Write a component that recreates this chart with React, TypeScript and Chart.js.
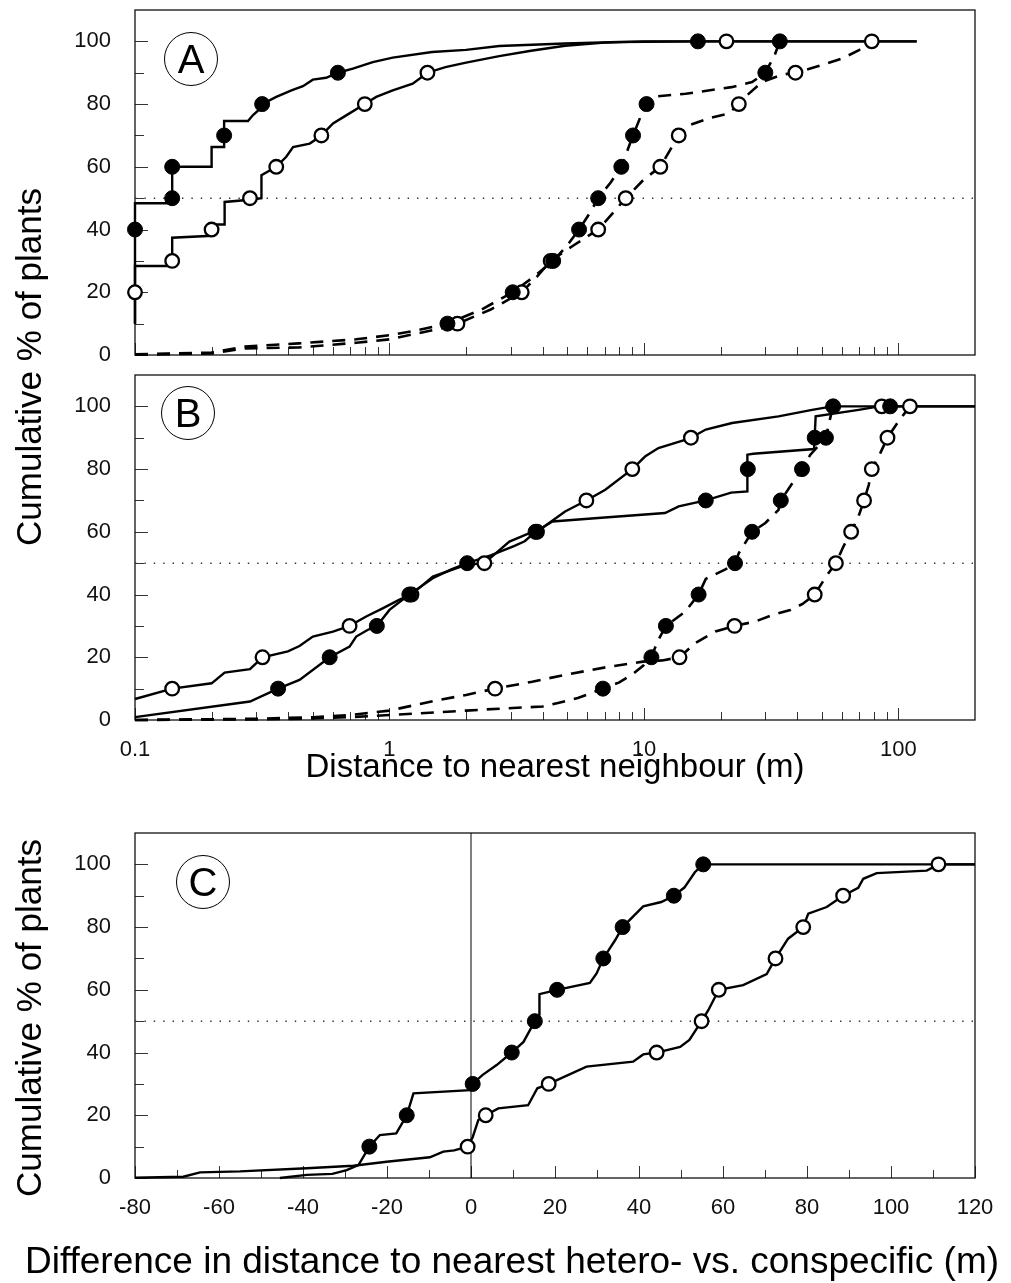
import React, { useEffect, useRef } from "react";
import { Chart, registerables } from "chart.js";
Chart.register(...registerables);

const FONT = "'Liberation Sans', Arial, Helvetica, sans-serif";

const DECILES = [10, 20, 30, 40, 50, 60, 70, 80, 90, 100];
const Y_MAJOR = [0, 20, 40, 60, 80, 100];
const Y_MINOR = [10, 30, 50, 70, 90];
const LOG_MAJOR = [0.1, 1, 10, 100];
const LOG_MINOR = [0.2, 0.3, 0.4, 0.5, 0.6, 0.7, 0.8, 0.9, 2, 3, 4, 5, 6, 7, 8, 9, 20, 30, 40, 50, 60, 70, 80, 90];
const C_MAJOR = [-80, -60, -40, -20, 0, 20, 40, 60, 80, 100, 120];
const C_MINOR = [-70, -50, -30, -10, 10, 30, 50, 70, 90, 110];

// ---------- Panel A ----------
const A_FS_X = [0.1, 0.1, 0.14, 0.14, 0.2, 0.2, 0.224, 0.224, 0.278, 0.291, 0.305, 0.316, 0.359, 0.412, 0.457, 0.5, 0.564, 0.627, 0.718, 0.86, 1.03, 1.47, 2.0, 2.7, 4.9, 8, 16.3, 118];
const A_FS_Y = [10, 48.4, 48.4, 60, 60, 66.3, 66.3, 74.6, 74.6, 76.5, 78, 80, 82.3, 84.4, 85.7, 87.8, 88.4, 90, 91.3, 93.4, 94.8, 96.6, 97.3, 98.5, 99.3, 99.8, 100, 100];
const A_FS_MX = [0.1, 0.14, 0.14, 0.224, 0.316, 0.627, 16.3];
const A_FS_MY = [40, 50, 60, 70, 80, 90, 100];

const A_OS_X = [0.1, 0.1, 0.14, 0.14, 0.2, 0.2, 0.225, 0.225, 0.283, 0.314, 0.314, 0.359, 0.393, 0.418, 0.486, 0.531, 0.54, 0.6, 0.676, 0.8, 0.887, 1.03, 1.234, 1.41, 1.66, 2.0, 2.7, 3.6, 4.9, 7, 10, 21.1, 118];
const A_OS_Y = [10, 28.4, 28.4, 37.4, 38, 41.6, 41.6, 48.8, 49.5, 50, 57.3, 60, 63.2, 66.3, 67.4, 69.5, 70, 73.8, 76.4, 80, 82.3, 84.4, 86.5, 90, 91.8, 93.2, 95.3, 97, 98.6, 99.6, 100, 100, 100];
const A_OS_MX = [0.1, 0.14, 0.2, 0.283, 0.359, 0.54, 0.8, 1.41, 21.1];
const A_OS_MY = [20, 30, 40, 50, 60, 70, 80, 90, 100];

const A_FD_X = [0.1, 0.2, 0.27, 0.44, 0.74, 1.0, 1.27, 1.69, 2.3, 3.05, 3.7, 4.4, 5.0, 5.56, 6.1, 6.61, 7.4, 8.15, 9.06, 9.7, 10.24, 10.7, 14.6, 22.1, 26.6, 30.0, 32.6, 34.2];
const A_FD_Y = [0.2, 0.8, 2.7, 3.7, 5.0, 6.3, 7.8, 10, 14.5, 20, 25, 30, 35, 40, 45, 50, 55, 60, 70, 76, 80, 82.3, 83.3, 85.4, 87, 90, 95.5, 100];
const A_FD_MX = [1.69, 3.05, 4.4, 5.56, 6.61, 8.15, 9.06, 10.24, 30.0, 34.2];

const A_OD_X = [0.1, 0.2, 0.27, 0.44, 0.74, 1.0, 1.27, 1.6, 1.85, 2.5, 3.31, 3.8, 4.3, 5.3, 6.61, 7.5, 8.48, 10, 11.6, 12.6, 13.7, 15, 18, 21.5, 23.6, 25, 29.1, 34.9, 39.4, 47.1, 60, 69.7, 78.6];
const A_OD_Y = [0.1, 0.5, 2.1, 2.4, 3.9, 5.0, 6.8, 8.5, 10, 14.5, 20, 25, 30, 35, 40, 45, 50, 56, 60, 65, 70, 73.2, 75.5, 77, 80, 82.3, 87, 89.4, 90, 91.8, 94.5, 97.1, 100];
const A_OD_MX = [1.85, 3.31, 4.3, 6.61, 8.48, 11.6, 13.7, 23.6, 39.4, 78.6];

// ---------- Panel B ----------
const B_OS_X = [0.1, 0.14, 0.2, 0.225, 0.283, 0.317, 0.399, 0.443, 0.5, 0.6, 0.697, 0.81, 0.94, 1.09, 1.22, 1.48, 2.0, 2.36, 2.96, 3.55, 3.8, 4.24, 4.9, 5.94, 7.05, 9.0, 10.1, 11.4, 14.5, 15.3, 17.5, 22.2, 33.8, 45.8, 55, 86, 200];
const B_OS_Y = [6.7, 10, 11.7, 15.1, 16.2, 20, 21.9, 23.6, 26.6, 28.2, 30, 33, 35.6, 38.3, 40, 45.7, 49.5, 50, 56.9, 59.6, 60, 62.8, 66.5, 70, 73.4, 80, 84, 86.7, 89.3, 90, 92.6, 94.7, 96.8, 98.9, 100, 100, 100];
const B_OS_MX = [0.14, 0.317, 0.697, 1.22, 2.36, 3.8, 5.94, 9.0, 15.3, 86];

const B_FS_X = [0.1, 0.283, 0.365, 0.443, 0.582, 0.697, 0.74, 0.82, 0.892, 1.0, 1.197, 1.48, 1.75, 2.02, 2.5, 3.1, 3.4, 3.75, 4.37, 6.6, 12.1, 13.7, 17.5, 22, 25.5, 25.5, 26.9, 46.6, 47.3, 69.8, 84, 92.8, 200];
const B_FS_Y = [0.9, 5.9, 10, 12.8, 20, 23.4, 26.6, 28.7, 30, 35.1, 40, 45.2, 48, 50, 52.5, 55.5, 57, 60, 63.3, 64.4, 66, 68.1, 70, 72.5, 72.9, 84.6, 84.9, 86.4, 96.8, 98.9, 100, 100, 100];
const B_FS_MX = [0.365, 0.582, 0.892, 1.197, 2.02, 3.75, 17.5, 25.6, 46.9, 92.8];

const B_FD_X = [0.1, 0.3, 0.5, 0.7, 1.0, 2.0, 2.7, 4.0, 4.64, 5.5, 6.9, 8.0, 9.0, 10.0, 10.7, 11.3, 12.2, 14.5, 16.4, 17.5, 20.9, 22.8, 23.6, 26.6, 30.0, 33.8, 34.5, 37.6, 41.8, 45.1, 51.9, 53.5, 55.4];
const B_FD_Y = [0, 0.2, 0.5, 0.9, 1.6, 3.0, 3.6, 4.3, 5.5, 7, 10, 12, 14.5, 17.5, 20, 25, 30, 34.5, 40, 45, 48, 50, 53.2, 60, 62.8, 67, 70, 74.5, 80, 84.6, 90, 95, 100];
const B_FD_MX = [6.9, 10.7, 12.2, 16.4, 22.8, 26.6, 34.5, 41.8, 51.9, 55.4];

const B_OD_X = [0.1, 0.3, 0.5, 0.7, 1.0, 1.48, 2.0, 2.6, 3.64, 4.9, 7.3, 9.9, 11.8, 13.8, 15.9, 19.1, 22.7, 27.4, 32, 37.6, 42, 46.9, 51.9, 56.8, 60.8, 65.2, 69.7, 73.3, 76.5, 78.6, 84.8, 90.6, 100, 111];
const B_OD_Y = [0, 0.4, 0.9, 1.6, 3.0, 6.0, 8.0, 10, 12.2, 14.4, 17.0, 18.6, 19.0, 20, 24.5, 28.2, 30, 31.4, 33.5, 35.1, 37, 40, 45.7, 50, 55.3, 60, 64.9, 70, 75, 80, 85, 90, 95.2, 100];
const B_OD_MX = [2.6, 13.8, 22.7, 46.9, 56.8, 65.2, 73.3, 78.6, 90.6, 111];

// ---------- Panel C ----------
const C_FS_X = [-45.5, -39.1, -33, -29.6, -26.8, -24.2, -21.7, -17.8, -15.3, -13.7, -0.24, 0.4, 2.7, 6.1, 9.7, 12.5, 15.2, 16.3, 16.3, 20.5, 28.3, 29.9, 31.5, 34.3, 36.1, 41.0, 45.3, 48.3, 50.8, 53.3, 55.3, 120];
const C_FS_Y = [0, 1, 1.3, 2.5, 4.1, 10, 13.7, 14.2, 20, 27, 28, 30, 32.8, 36, 40, 43.4, 50, 52, 58.6, 60, 62.2, 65.2, 70, 75.8, 80, 86.6, 88, 90, 92.6, 97.5, 100, 100];
const C_FS_MX = [-24.2, -15.3, 0.4, 9.7, 15.2, 20.5, 31.5, 36.1, 48.3, 55.3];

const C_OS_X = [-80, -68.5, -64.5, -55, -39.1, -28, -20.1, -9.8, -6.6, -4, -0.8, 0.4, 1.75, 3.5, 6.5, 13.6, 15.8, 18.5, 27.5, 38.6, 41, 44.2, 49.8, 52, 54.9, 56.5, 59.0, 64.8, 70.4, 72.5, 75.5, 79.1, 80.3, 84.7, 88.6, 92.2, 93.4, 96.6, 108.5, 111.3, 120];
const C_OS_Y = [0.1, 0.4, 1.8, 2.1, 3.1, 3.9, 5.2, 6.6, 8.4, 8.8, 10, 13, 18.5, 20, 22.2, 23.2, 28.6, 30, 35.5, 37.1, 39.4, 40, 41.8, 44, 50, 53.5, 60, 61.5, 65, 70, 76.3, 80, 84.3, 86.4, 90, 92.5, 95.4, 97.2, 98, 100, 100];
const C_OS_MX = [-0.8, 3.5, 18.5, 44.2, 54.9, 59.0, 72.5, 79.1, 88.6, 111.3];

const ZERO_X = [0, 0];
const ZERO_Y = [0, 110];

// ---------- helpers ----------
const pts = (xs: number[], ys: number[]) => xs.map((x, i) => ({ x, y: ys[i] }));

function curve(xs: number[], ys: number[], dashed: boolean) {
  return {
    data: pts(xs, ys),
    showLine: true,
    borderColor: "#000",
    borderWidth: dashed ? 2.6 : 2.4,
    borderDash: dashed ? [13, 9] : [],
    pointRadius: 0,
    pointHoverRadius: 0,
    tension: 0,
    order: 2,
    clip: 4,
  };
}

function marks(xs: number[], ys: number[], filled: boolean) {
  return {
    data: pts(xs, ys),
    showLine: false,
    pointRadius: filled ? 7.5 : 6.8,
    pointHoverRadius: filled ? 7.5 : 6.8,
    pointBorderWidth: filled ? 1 : 2.3,
    pointBackgroundColor: filled ? "#000" : "#fff",
    pointBorderColor: "#000",
    order: filled ? 0 : 1,
    clip: false,
  };
}

function refLine(xs: number[], ys: number[], dotted: boolean) {
  return {
    data: pts(xs, ys),
    showLine: true,
    borderColor: dotted ? "#333" : "#000",
    borderWidth: dotted ? 1.4 : 1,
    borderDash: dotted ? [1.4, 8] : [],
    pointRadius: 0,
    pointHoverRadius: 0,
    order: 3,
  };
}

type PanelCfg = {
  pageTop: number;
  canvasH: number;
  top: number;
  bottom: number;
  log: boolean;
  xMin: number;
  xMax: number;
  xMajor: number[];
  xMinor: number[];
  showXLabels: boolean;
  xTitle?: string;
  letter: string;
  letterDx: number;
  letterDy: number;
  datasets: any[];
};

const PANEL_A: PanelCfg = {
  pageTop: -10, canvasH: 385, top: 20, bottom: 365, log: true, xMin: 0.1, xMax: 200,
  xMajor: LOG_MAJOR, xMinor: LOG_MINOR, showXLabels: false,
  letter: "A", letterDx: 56, letterDy: 49,
  datasets: [
    marks(A_FS_MX, A_FS_MY, true),
    marks(A_FD_MX, DECILES, true),
    marks(A_OS_MX, A_OS_MY, false),
    marks(A_OD_MX, DECILES, false),
    curve(A_FS_X, A_FS_Y, false),
    curve(A_OS_X, A_OS_Y, false),
    curve(A_FD_X, A_FD_Y, true),
    curve(A_OD_X, A_OD_Y, true),
    refLine([0.1, 200], [50, 50], true),
  ],
};

const PANEL_B: PanelCfg = {
  pageTop: 355, canvasH: 440, top: 20, bottom: 365, log: true, xMin: 0.1, xMax: 200,
  xMajor: LOG_MAJOR, xMinor: LOG_MINOR, showXLabels: true,
  xTitle: "Distance to nearest neighbour (m)",
  letter: "B", letterDx: 53, letterDy: 38,
  datasets: [
    marks(B_FS_MX, DECILES, true),
    marks(B_FD_MX, DECILES, true),
    marks(B_OS_MX, DECILES, false),
    marks(B_OD_MX, DECILES, false),
    curve(B_FS_X, B_FS_Y, false),
    curve(B_OS_X, B_OS_Y, false),
    curve(B_FD_X, B_FD_Y, true),
    curve(B_OD_X, B_OD_Y, true),
    refLine([0.1, 200], [50, 50], true),
  ],
};

const PANEL_C: PanelCfg = {
  pageTop: 795, canvasH: 488, top: 38, bottom: 383, log: false, xMin: -80, xMax: 120,
  xMajor: C_MAJOR, xMinor: C_MINOR, showXLabels: true,
  letter: "C", letterDx: 68, letterDy: 49,
  datasets: [
    marks(C_FS_MX, DECILES, true),
    marks(C_OS_MX, DECILES, false),
    curve(C_FS_X, C_FS_Y, false),
    curve(C_OS_X, C_OS_Y, false),
    refLine([-80, 120], [50, 50], true),
    refLine(ZERO_X, ZERO_Y, false),
  ],
};

function makeFramePlugin(cfg: PanelCfg) {
  return {
    id: "frame" + cfg.letter,
    beforeDatasetsDraw(chart: any) {
      const { ctx, chartArea: ca, scales } = chart;
      const xs = scales.x;
      const ys = scales.y;
      ctx.save();
      ctx.strokeStyle = "#333";
      ctx.lineWidth = 1;
      ctx.beginPath();
      const xt = (v: number, len: number) => {
        const p = Math.round(xs.getPixelForValue(v)) + 0.5;
        ctx.moveTo(p, ca.bottom);
        ctx.lineTo(p, ca.bottom - len);
      };
      const yt = (v: number, len: number) => {
        const p = Math.round(ys.getPixelForValue(v)) + 0.5;
        ctx.moveTo(ca.left, p);
        ctx.lineTo(ca.left + len, p);
      };
      cfg.xMajor.forEach((v) => xt(v, 12));
      cfg.xMinor.forEach((v) => xt(v, 8));
      Y_MAJOR.forEach((v) => yt(v, 13));
      Y_MINOR.forEach((v) => yt(v, 9));
      ctx.stroke();
      ctx.strokeStyle = "#111";
      ctx.lineWidth = 1.3;
      ctx.strokeRect(ca.left, ca.top, ca.right - ca.left, ca.bottom - ca.top);
      const cx = ca.left + cfg.letterDx;
      const cy = ca.top + cfg.letterDy;
      ctx.lineWidth = 1;
      ctx.strokeStyle = "#000";
      ctx.beginPath();
      ctx.arc(cx, cy, 26.5, 0, Math.PI * 2);
      ctx.stroke();
      ctx.fillStyle = "#000";
      ctx.font = `40px ${FONT}`;
      ctx.textAlign = "center";
      ctx.textBaseline = "alphabetic";
      ctx.fillText(cfg.letter, cx, cy + 14.3);
      ctx.restore();
    },
  };
}

const HIDDEN_TICK = "rgba(0,0,0,0)";

function buildConfig(cfg: PanelCfg): any {
  return {
    type: "scatter",
    data: { datasets: cfg.datasets },
    plugins: [makeFramePlugin(cfg)],
    options: {
      animation: false,
      responsive: false,
      events: [],
      layout: { padding: { left: 0, right: 36, top: cfg.top, bottom: 0 } },
      plugins: { legend: { display: false }, tooltip: { enabled: false } },
      scales: {
        x: {
          type: cfg.log ? "logarithmic" : "linear",
          min: cfg.xMin,
          max: cfg.xMax,
          afterBuildTicks: (s: any) => {
            s.ticks = cfg.xMajor.map((v) => ({ value: v }));
          },
          afterFit: (s: any) => {
            s.height = cfg.canvasH - cfg.bottom;
          },
          grid: { display: true, drawOnChartArea: false, drawTicks: true, tickLength: 17, color: HIDDEN_TICK },
          border: { display: false },
          ticks: {
            display: cfg.showXLabels,
            padding: 0,
            autoSkip: false,
            maxRotation: 0,
            color: "#111",
            font: { size: 22, family: FONT },
            callback: (v: any) => String(v),
          },
          title: {
            display: !!cfg.xTitle,
            text: cfg.xTitle || "",
            color: "#000",
            font: { size: 33, family: FONT },
            padding: { top: 0, bottom: 7 },
          },
        },
        y: {
          type: "linear",
          min: 0,
          max: 110,
          afterBuildTicks: (s: any) => {
            s.ticks = Y_MAJOR.map((v) => ({ value: v }));
          },
          afterFit: (s: any) => {
            s.width = 135;
          },
          grid: { display: true, drawOnChartArea: false, drawTicks: true, tickLength: 24, color: HIDDEN_TICK },
          border: { display: false },
          ticks: {
            padding: 0,
            color: "#111",
            font: { size: 22, family: FONT },
            callback: (v: any) => String(v),
          },
        },
      },
    },
  };
}

function Panel({ cfg }: { cfg: PanelCfg }) {
  const ref = useRef<HTMLCanvasElement>(null);
  useEffect(() => {
    const chart = new Chart(ref.current as HTMLCanvasElement, buildConfig(cfg));
    return () => chart.destroy();
  }, [cfg]);
  return (
    <canvas
      ref={ref}
      width={1011}
      height={cfg.canvasH}
      style={{ position: "absolute", left: 0, top: cfg.pageTop, width: 1011, height: cfg.canvasH, display: "block" }}
    />
  );
}

const yTitle = (cy: number): React.CSSProperties => ({
  position: "absolute",
  left: 29 - 250,
  top: cy - 20,
  width: 500,
  height: 40,
  lineHeight: "40px",
  fontSize: 35,
  textAlign: "center",
  transform: "rotate(-90deg)",
  whiteSpace: "nowrap",
  color: "#000",
  fontFamily: FONT,
});

export default function App() {
  return (
    <div
      style={{
        position: "absolute",
        left: 0,
        top: 0,
        width: 1011,
        height: 1283,
        background: "#fff",
        overflow: "hidden",
        fontFamily: FONT,
      }}
    >
      <Panel cfg={PANEL_A} />
      <Panel cfg={PANEL_B} />
      <Panel cfg={PANEL_C} />
      <div style={yTitle(367)}>Cumulative % of plants</div>
      <div style={yTitle(1018)}>Cumulative % of plants</div>
      <div
        style={{
          position: "absolute",
          left: 0,
          top: 1242,
          width: 1024,
          textAlign: "center",
          fontSize: 37,
          lineHeight: "37px",
          whiteSpace: "nowrap",
          color: "#000",
          fontFamily: FONT,
        }}
      >
        Difference in distance to nearest hetero- vs. conspecific (m)
      </div>
    </div>
  );
}
